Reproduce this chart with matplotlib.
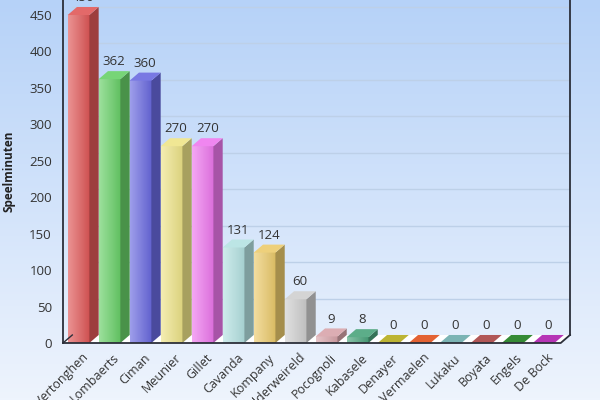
import numpy as np
import matplotlib
matplotlib.use("Agg")
import matplotlib.pyplot as plt
from matplotlib.patches import Polygon
from matplotlib.colors import to_rgb

players = ["Vertonghen", "Lombaerts", "Ciman", "Meunier", "Gillet", "Cavanda",
           "Kompany", "Alderweireld", "Pocognoli", "Kabasele", "Denayer",
           "Vermaelen", "Lukaku", "Boyata", "Engels", "De Bock"]
minutes = [450, 362, 360, 270, 270, 131, 124, 60, 9, 8, 0, 0, 0, 0, 0, 0]
colors = ["#e05858", "#68d068", "#6a6ae0", "#eee488", "#ee78ee", "#b4e2e2",
          "#eccb6c", "#cfcfcf", "#d8a4aa", "#4aa47c", "#b4ac1c", "#e0501c",
          "#6cacac", "#a84444", "#1e7e1e", "#ae1eae"]
yticks = np.arange(0, 451, 50)

plt.rcParams['font.family'] = ['Open Sans', 'DejaVu Sans']

fig = plt.figure(figsize=(6, 4), dpi=100)

# background gradient over the whole figure
bg = fig.add_axes([0, 0, 1, 1], zorder=-1)
top = np.array(to_rgb("#b6d2f8"))
bot = np.array(to_rgb("#eef4fd"))
t = np.linspace(0, 1, 200)[:, None]
grad = (top * (1 - t) + bot * t)[:, None, :]
bg.imshow(grad, aspect='auto', extent=[0, 1, 0, 1])
bg.axis('off')

ax = fig.add_axes([63 / 600, 57 / 400, 507 / 600, 343 / 400])
ax.patch.set_alpha(0)
ymax = 470.6
xmin, xmax = -0.5, 15.85
ax.set_xlim(xmin, xmax)
ax.set_ylim(0, ymax)

dx = 0.30   # depth offset in slot units
dy = 11.0   # depth offset in data units
hw = 0.35


def shade(c, f):
    c = np.array(to_rgb(c))
    if f > 1:
        return tuple(c + (1 - c) * (f - 1))
    return tuple(c * f)


# back wall gridlines
for v in yticks[1:]:
    ax.plot([xmin + dx, xmax], [v + dy, v + dy], color="#bdd0e8", lw=1, zorder=1)

# floor
floor = Polygon([(xmin, 0), (xmax - dx, 0), (xmax, dy), (xmin + dx, dy)],
                closed=True, facecolor="white", edgecolor="none", zorder=1)
ax.add_patch(floor)

for i, (h, c) in enumerate(zip(minutes, colors)):
    x0, x1 = i - hw, i + hw
    if h > 0:
        g = np.linspace(0, 1, 50)
        lc = np.array(shade(c, 1.35))
        dc = np.array(shade(c, 0.92))
        img = (lc[None, :] * (1 - g[:, None]) + dc[None, :] * g[:, None])[None, :, :]
        ax.imshow(img, aspect='auto', extent=[x0, x1, 0, h], zorder=3,
                  interpolation='bilinear')
        side = Polygon([(x1, 0), (x1 + dx, dy), (x1 + dx, h + dy), (x1, h)],
                       closed=True, facecolor=shade(c, 0.7), edgecolor="none", zorder=3)
        ax.add_patch(side)
    topf = Polygon([(x0, h), (x1, h), (x1 + dx, h + dy), (x0 + dx, h + dy)],
                   closed=True, facecolor=shade(c, 1.1), edgecolor="none", zorder=4)
    ax.add_patch(topf)
    ax.text(i + dx / 2, h + dy + 4, str(h), ha='center', va='bottom',
            fontsize=9.5, color="#333333", zorder=5, clip_on=False)

# axis frame lines
ax.plot([xmin, xmin], [0, ymax], color="#2b2f3a", lw=1.3, zorder=6, clip_on=False)
ax.plot([xmax, xmax], [dy, ymax], color="#2b2f3a", lw=1.3, zorder=6, clip_on=False)
ax.plot([xmin, xmax - dx, xmax], [0, 0, dy], color="#2b2f3a", lw=1.3, zorder=6, clip_on=False)
ax.plot([xmin, xmin + dx], [0, dy], color="#2b2f3a", lw=1, zorder=6, clip_on=False)

for s in ax.spines.values():
    s.set_visible(False)

ax.set_yticks(yticks)
ax.set_yticklabels([str(v) for v in yticks], fontsize=9.5, color="#333333")
ax.tick_params(axis='y', length=0, pad=8)
ax.set_xticks(np.arange(len(players)) + 0.1)
ax.set_xticklabels(players, rotation=45, ha='right', rotation_mode='anchor',
                   fontsize=9, color="#333333")
ax.tick_params(axis='x', length=0, pad=6)
ax.set_ylabel("Speelminuten", fontsize=8.5, fontweight='bold', color="#222222", labelpad=10)

fig.savefig("out.png", dpi=100)
